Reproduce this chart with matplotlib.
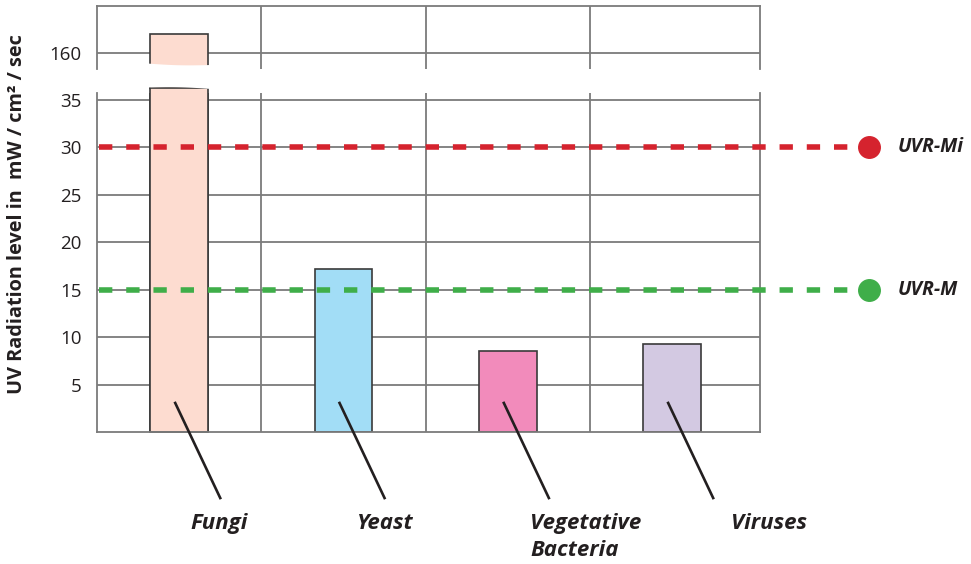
import matplotlib
matplotlib.use("Agg")
import matplotlib.pyplot as plt
from matplotlib.patches import Polygon
import matplotlib.transforms as mtransforms
import numpy as np

plt.rcParams["font.family"] = ["Open Sans", "DejaVu Sans"]

# ---- data -------------------------------------------------------------
categories = ["Fungi", "Yeast", "Vegetative\nBacteria", "Viruses"]
uv_levels = [162, 17.2, 8.5, 9.3]          # mW / cm² / sec
bar_colors = ["#fddcd0", "#a2ddf6", "#f28bbb", "#d3c9e2"]
low_ticks = [5, 10, 15, 20, 25, 30, 35]
high_ticks = [160]
thresholds = [30, 15]
threshold_names = ["UVR-Mi", "UVR-M"]
threshold_colors = ["#d5232e", "#3fae49"]

# ---- layout (pixels) --------------------------------------------------
W, H, DPI = 971, 564, 100
left_px, right_px = 97, 760
low_bot_px, low_top_px = 432, 93
high_top_px, high_bot_px = 6, 69
px_per_unit = 9.486
tick_160_px = 53

fig = plt.figure(figsize=(W / DPI, H / DPI), dpi=DPI)

def add_px_axes(top, bottom):
    return fig.add_axes([left_px / W, (H - bottom) / H,
                         (right_px - left_px) / W, (bottom - top) / H])

ax_lo = add_px_axes(low_top_px, low_bot_px)
ax_hi = add_px_axes(high_top_px, high_bot_px)

ax_lo.set_ylim(0, (low_bot_px - low_top_px) / px_per_unit)
ax_hi.set_ylim(high_ticks[0] - (high_bot_px - tick_160_px) / px_per_unit,
               high_ticks[0] + (tick_160_px - high_top_px) / px_per_unit)

x = np.arange(len(categories))
xlim = (-0.5, 3.535)
grid_c = "#7b7b7b"
for ax in (ax_lo, ax_hi):
    ax.set_xlim(*xlim)
    ax.set_xticks([])
    for s in ax.spines.values():
        s.set_color(grid_c)
        s.set_linewidth(1.3)
    for gx in [0.5, 1.5, 2.5]:
        ax.axvline(gx, color=grid_c, lw=1.3, zorder=0.5)
    ax.tick_params(axis="y", length=0, pad=11, labelsize=13.5,
                   labelcolor="#231f20")
    ax.set_facecolor("none")

ax_lo.spines["top"].set_visible(False)
ax_hi.spines["bottom"].set_visible(False)
ax_lo.set_yticks(low_ticks)
ax_hi.set_yticks(high_ticks)
for t in low_ticks:
    ax_lo.axhline(t, color=grid_c, lw=1.3, zorder=0.5)
for t in high_ticks:
    ax_hi.axhline(t, color=grid_c, lw=1.3, zorder=0.5)

bw = 0.35
edge = "#3a3a3a"
# lower panel: bars (the tall one runs past the panel top, hidden by the break)
ax_lo.bar(x, uv_levels, width=bw, color=bar_colors, edgecolor=edge,
          linewidth=1.2, zorder=2, clip_on=True)
ax_lo.bar(x[0], ax_lo.get_ylim()[1] + 1.5, width=bw, color=bar_colors[0],
          edgecolor=edge, linewidth=1.2, zorder=2, clip_on=False)
# upper panel: only the tall bar reaches this range
lo_hi = ax_hi.get_ylim()[0]
ax_hi.bar(x[0], uv_levels[0] - (lo_hi - 2), bottom=lo_hi - 2, width=bw,
          color=bar_colors[0], edgecolor=edge, linewidth=1.2, zorder=2,
          clip_on=False)

# white curved break across the tall bar
trans = mtransforms.blended_transform_factory(ax_lo.transData, fig.transFigure)
xs = np.linspace(x[0] - bw / 2 - 0.02, x[0] + bw / 2 + 0.02, 30)
t = (xs - xs[0]) / (xs[-1] - xs[0])
upper_edge = 63.5 + 1.5 * t + 1.0 * np.sin(np.pi * t)
lower_edge = 87.5 + 1.5 * t - 1.0 * np.sin(np.pi * t)
pts = np.vstack([np.column_stack([xs, (H - upper_edge) / H]),
                 np.column_stack([xs[::-1], (H - lower_edge[::-1]) / H])])
fig.patches.append(Polygon(pts, closed=True, transform=trans,
                           facecolor="white", edgecolor="none", zorder=5))

# threshold lines with end markers and labels
marker_x = 4.2
label_x = 4.375
for val, name, col in zip(thresholds, threshold_names, threshold_colors):
    ax_lo.plot([xlim[0] + 0.012, marker_x], [val, val], color=col, lw=4,
               linestyle=(0, (2.4, 2.5)), clip_on=False, zorder=3)
    ax_lo.plot([marker_x], [val], "o", color=col, markersize=15.5,
               clip_on=False, zorder=3)
    ax_lo.text(label_x, val, name, fontsize=14, fontweight="bold",
               fontstyle="italic", color="#231f20", va="center", ha="left",
               clip_on=False)

# category leader lines and labels below the axis
label_dx = [0.07, 0.08, 0.135, 0.36]
for xi, name, dx in zip(x, categories, label_dx):
    ax_lo.plot([xi - 0.024, xi + 0.25], [3.06, -6.96], color="#231f20",
               lw=1.9, clip_on=False, zorder=3)
    ax_lo.text(xi + dx, -8.5, name, fontsize=16, fontweight="bold",
               fontstyle="italic", color="#231f20", ha="left", va="top",
               linespacing=1.38, clip_on=False)

fig.text(17 / W, (H - 214) / H, "UV Radiation level in  mW / cm² / sec",
         rotation=90, fontsize=14.3, fontweight="bold", color="#231f20",
         ha="center", va="center")

fig.savefig("out.png", dpi=DPI)
